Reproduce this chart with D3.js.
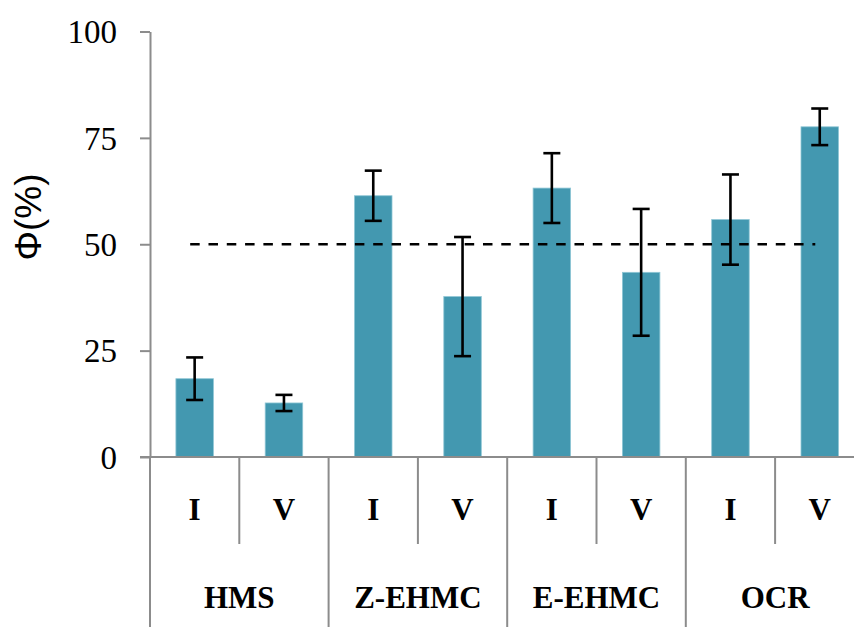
<!DOCTYPE html>
<html>
<head>
<meta charset="utf-8">
<script src="https://cdn.jsdelivr.net/npm/d3@7/dist/d3.min.js"></script>
<style>
  html, body { margin: 0; padding: 0; background: #fff; }
  svg { display: block; }
</style>
</head>
<body>
<svg id="chart" width="854" height="627"></svg>
<script>
// Samples grouped by compound, two conditions each
const groups = ["HMS", "Z-EHMC", "E-EHMC", "OCR"];
const conditions = ["I", "V"];
// Φ (%) per bar, in group order (I, V)
const values = [18.4, 12.7, 61.4, 37.7, 63.2, 43.4, 55.8, 77.6];
// Error half-widths
const errors = [5.0, 1.9, 5.9, 14.0, 8.2, 14.9, 10.6, 4.3];
const yTicks = [0, 25, 50, 75, 100];
const threshold = 50;

const bars = [];
groups.forEach((g, gi) => conditions.forEach((c, ci) => {
  const i = gi * conditions.length + ci;
  bars.push({ key: g + "|" + c, group: g, cond: c, value: values[i], err: errors[i] });
}));

const svg = d3.select("#chart");
const axisColor = "#8c8c8c";
const plotLeft = 150, plotBottom = 457, plotTop = 31.5, bandStep = 89.3;

const x = d3.scaleBand()
  .domain(bars.map(d => d.key))
  .range([plotLeft, plotLeft + bandStep * bars.length])
  .paddingInner(0).paddingOuter(0);
const bw = x.bandwidth();
const barW = bw * 0.42;

const y = d3.scaleLinear().domain([0, 100]).range([plotBottom, plotTop]);

// y axis
const yAxis = d3.axisLeft(y).tickValues(yTicks).tickSize(10).tickPadding(23).tickSizeOuter(0);
const yg = svg.append("g").attr("transform", `translate(${plotLeft},0)`).call(yAxis);
yg.select(".domain").attr("stroke", axisColor).attr("stroke-width", 2);
yg.selectAll(".tick line").attr("stroke", axisColor).attr("stroke-width", 2);
yg.selectAll(".tick text")
  .attr("font-family", "'Liberation Serif', 'Times New Roman', serif")
  .attr("font-size", 33).attr("fill", "#000").attr("dy", "0.34em");

// y title
svg.append("text")
  .attr("transform", `translate(41,217) rotate(-90)`)
  .attr("text-anchor", "middle")
  .attr("font-family", "'Liberation Sans', Arial, sans-serif")
  .attr("font-size", 37)
  .attr("fill", "#000")
  .text("Φ(%)");

// bars
svg.append("g").selectAll("rect").data(bars).join("rect")
  .attr("x", d => x(d.key) + (bw - barW) / 2)
  .attr("y", d => y(d.value))
  .attr("width", barW)
  .attr("height", d => y(0) - y(d.value))
  .attr("fill", "#4398b0")
  .attr("stroke", "#8fc6d5")
  .attr("stroke-width", 0.8);

// error bars
const eg = svg.append("g").attr("stroke", "#000").attr("stroke-width", 2.6);
bars.forEach(d => {
  const cx = x(d.key) + bw / 2;
  const y1 = y(d.value + d.err), y0 = y(d.value - d.err);
  eg.append("line").attr("x1", cx).attr("x2", cx).attr("y1", y1).attr("y2", y0);
  eg.append("line").attr("x1", cx - 8.5).attr("x2", cx + 8.5).attr("y1", y1).attr("y2", y1);
  eg.append("line").attr("x1", cx - 8.5).attr("x2", cx + 8.5).attr("y1", y0).attr("y2", y0);
});

// 50 % reference line
svg.append("line")
  .attr("x1", x(bars[0].key) + bw * 0.45)
  .attr("x2", x(bars[bars.length - 1].key) + bw * 0.45)
  .attr("y1", y(threshold)).attr("y2", y(threshold))
  .attr("stroke", "#000").attr("stroke-width", 2.6)
  .attr("stroke-dasharray", "9.5,8.8");

// category axis: baseline, dividers, labels
const xa = svg.append("g").attr("stroke", axisColor).attr("stroke-width", 2);
xa.append("line").attr("x1", plotLeft - 10).attr("x2", 854).attr("y1", plotBottom).attr("y2", plotBottom);
bars.forEach((d, i) => {
  const bx = x(d.key);
  const isGroupStart = i % conditions.length === 0;
  xa.append("line").attr("x1", bx).attr("x2", bx)
    .attr("y1", plotBottom).attr("y2", isGroupStart ? 627 : 544);
});

const serif = "'Liberation Serif', 'Times New Roman', serif";
svg.append("g").selectAll("text").data(bars).join("text")
  .attr("x", d => x(d.key) + bw / 2)
  .attr("y", 520)
  .attr("text-anchor", "middle")
  .attr("font-family", serif).attr("font-weight", "bold").attr("font-size", 31)
  .text(d => d.cond);

svg.append("g").selectAll("text").data(groups).join("text")
  .attr("x", g => x(g + "|" + conditions[0]) + bw * conditions.length / 2)
  .attr("y", 608)
  .attr("text-anchor", "middle")
  .attr("font-family", serif).attr("font-weight", "bold").attr("font-size", 31)
  .text(g => g);
</script>
</body>
</html>
